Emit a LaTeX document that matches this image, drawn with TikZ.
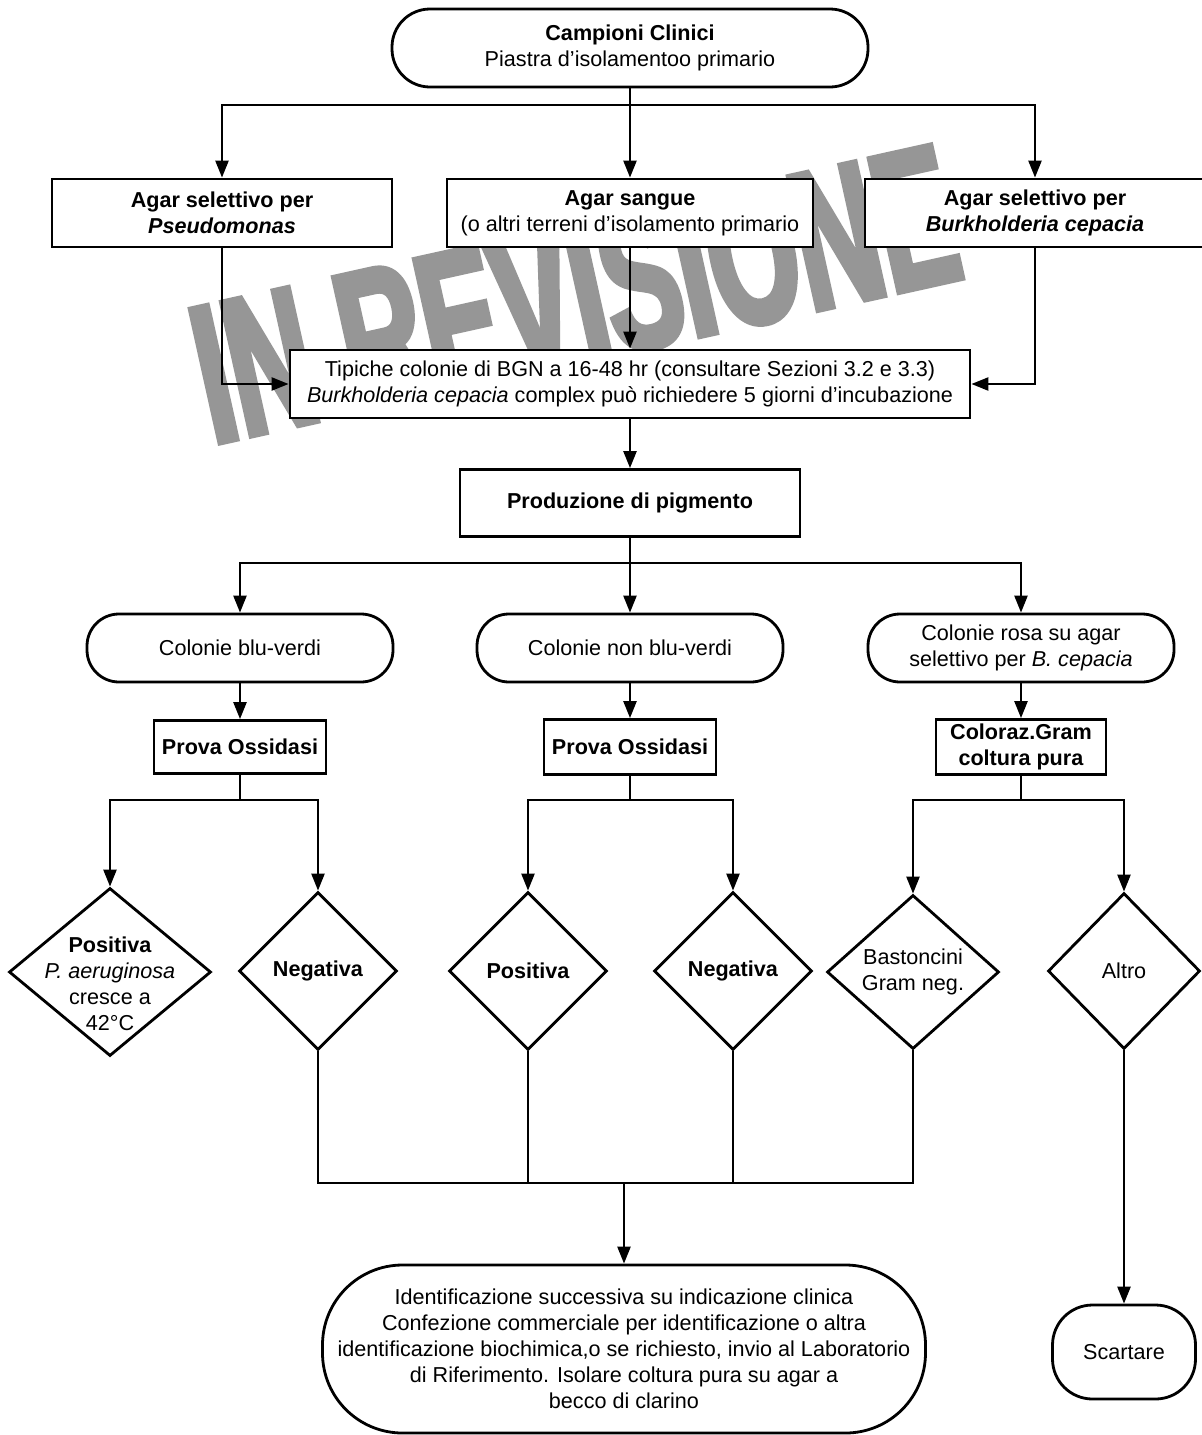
\documentclass[tikz,border=0pt]{standalone}
\usepackage{fontspec}
\usepackage{graphicx}
\setmainfont{Liberation Sans}
\usetikzlibrary{shapes.geometric,arrows.meta}
\definecolor{wmgray}{RGB}{150,150,150}
\font\wmfont="Liberation Sans/B:extend=0.58;embolden=3" at 99pt
\tikzset{
  box/.style={draw,fill=white,line width=1.4pt,align=center,inner sep=2pt},
  stad/.style={box,rounded corners=#1},
  decis/.style={diamond,draw,fill=white,line width=1.4pt,inner sep=0pt,align=center}
}
\begin{document}
\begin{tikzpicture}[x=0.5pt,y=-0.5pt,line width=1.2pt,>={Triangle[length=8.5pt,width=6.5pt]},
  font=\fontsize{10.8}{13}\selectfont]
\useasboundingbox (0,0) rectangle (1201,1435);
%
% Filigrana dietro al diagramma
\node[wmgray,rotate=12.5,font=\wmfont] (filigrana) at (575,294) {IN REVISIONE};
%
% --- Campioni e terreni ---
\node[stad=19pt,minimum width=238pt,minimum height=39pt] (campioni) at (630,48)
  {\textbf{Campioni Clinici}\\Piastra d’isolamentoo primario};
\node[box,minimum width=170pt,minimum height=34pt] (pseudo) at (222,213)
  {\textbf{Agar selettivo per}\\\textbf{\textit{Pseudomonas}}};
\node[box,minimum width=183pt,minimum height=34pt] (sangue) at (630,213)
  {\textbf{Agar sangue}\\(o altri terreni d’isolamento primario};
\node[box,minimum width=170pt,minimum height=34pt] (burk) at (1035,213)
  {\textbf{Agar selettivo per}\\\textbf{\textit{Burkholderia cepacia}}};
\coordinate (ram1) at (630,105);
\draw[->] (campioni) -- (sangue);
\draw[->] (ram1) -| (pseudo);
\draw[->] (ram1) -| (burk);
%
% --- Colonie tipiche ---
\node[box,minimum width=340pt,minimum height=34pt] (tipiche) at (630,384)
  {Tipiche colonie di BGN a 16-48 hr (consultare Sezioni 3.2 e 3.3)\\
   \textit{Burkholderia cepacia} complex può richiedere 5 giorni d’incubazione};
\draw[->] (pseudo) |- (tipiche);
\draw[->] (sangue) -- (tipiche);
\draw[->] (burk) |- (tipiche);
\node[box,minimum width=170pt,minimum height=33.5pt] (pigm) at (630,503)
  {\textbf{Produzione di pigmento}};
\draw[->] (tipiche) -- (pigm);
%
% --- Tre tipi di colonie ---
\node[stad=16pt,minimum width=153pt,minimum height=34pt] (bluv) at (240,648) {Colonie blu-verdi};
\node[stad=16pt,minimum width=153pt,minimum height=34pt] (nonbluv) at (630,648) {Colonie non blu-verdi};
\node[stad=16pt,minimum width=153pt,minimum height=34pt] (rosa) at (1021,648)
  {Colonie rosa su agar\\selettivo per \textit{B. cepacia}};
\coordinate (ram2) at (630,563);
\draw[->] (pigm) -- (nonbluv);
\draw[->] (ram2) -| (bluv);
\draw[->] (ram2) -| (rosa);
\node[box,minimum width=86pt,minimum height=26.5pt] (ox1) at (240,747) {\textbf{Prova Ossidasi}};
\node[box,minimum width=86pt,minimum height=27.5pt] (ox2) at (630,747) {\textbf{Prova Ossidasi}};
\node[box,minimum width=85pt,minimum height=27.5pt] (gram) at (1021,747)
  {\textbf{Coloraz.Gram}\\\textbf{coltura pura}};
\draw[->] (bluv) -- (ox1);
\draw[->] (nonbluv) -- (ox2);
\draw[->] (rosa) -- (gram);
%
% --- Esiti ---
\node[decis,minimum width=101pt,minimum height=84pt,
  label={[align=center,yshift=-6pt]center:\textbf{Positiva}\\\textit{P. aeruginosa}\\cresce a\\42°C}]
  (pos1) at (110,972) {};
\node[decis,minimum width=79pt,minimum height=79pt] (neg1) at (318,971) {\textbf{Negativa}};
\node[decis,minimum width=79pt,minimum height=79pt] (pos2) at (528,971) {\textbf{Positiva}};
\node[decis,minimum width=79pt,minimum height=79pt] (neg2) at (733,971) {\textbf{Negativa}};
\node[decis,minimum width=86pt,minimum height=77pt] (bast) at (913,972) {Bastoncini\\Gram neg.};
\node[decis,minimum width=76pt,minimum height=78pt] (altro) at (1124,971) {Altro};
\coordinate (ram3) at (240,800);
\coordinate (ram4) at (630,800);
\coordinate (ram5) at (1021,800);
\draw (ox1) -- (ram3);
\draw (ox2) -- (ram4);
\draw (gram) -- (ram5);
\draw[->] (ram3) -| (pos1);
\draw[->] (ram3) -| (neg1);
\draw[->] (ram4) -| (pos2);
\draw[->] (ram4) -| (neg2);
\draw[->] (ram5) -| (bast);
\draw[->] (ram5) -| (altro);
%
% --- Conclusione ---
\node[stad=40pt,minimum width=301.5pt,minimum height=84pt] (ident) at (624,1349)
  {Identificazione successiva su indicazione clinica\\
   Confezione commerciale per identificazione o altra\\
   identificazione biochimica,o se richiesto, invio al Laboratorio\\
   di Riferimento. Isolare coltura pura su agar a\\
   becco di clarino};
\node[stad=20pt,minimum width=71.5pt,minimum height=47pt] (scart) at (1124,1352) {Scartare};
\coordinate (conf) at (624,1183);
\draw (neg1) |- (conf);
\draw (bast) |- (conf);
\draw (pos2) -- (pos2 |- conf);
\draw (neg2) -- (neg2 |- conf);
\draw[->] (conf) -- (ident);
\draw[->] (altro) -- (scart);
\end{tikzpicture}
\end{document}
